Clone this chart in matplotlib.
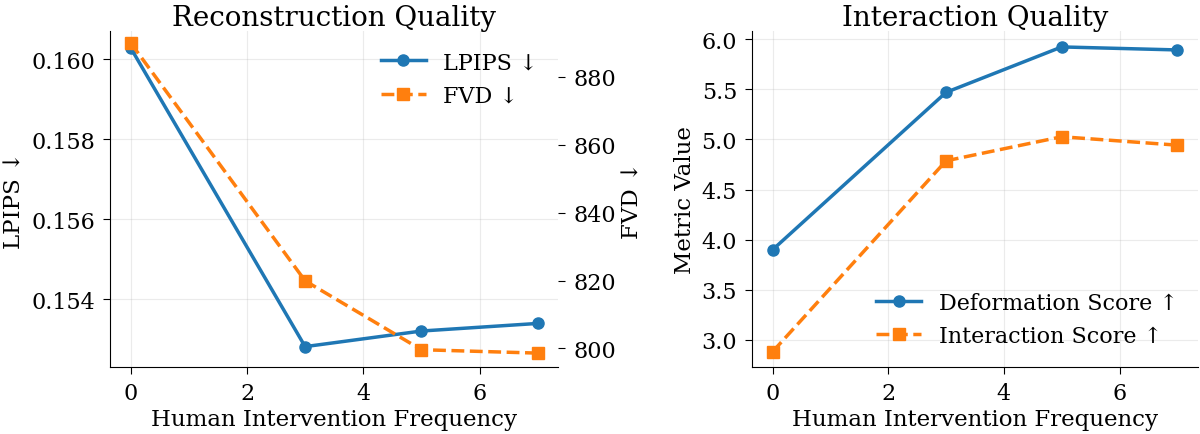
import matplotlib
matplotlib.use("Agg")
import matplotlib.pyplot as plt

freq = [0, 3, 5, 7]
lpips = [0.16028, 0.15281, 0.1532, 0.15339]
fvd = [890.0, 819.9, 799.6, 798.6]
deform = [3.90, 5.47, 5.923, 5.893]
interact = [2.883, 4.787, 5.027, 4.943]

blue = "#1f77b4"
orange = "#ff7f0e"

plt.rcParams['font.family'] = ['DejaVu Serif']
plt.rcParams['font.size'] = 16

fig = plt.figure(figsize=(12, 4.35), dpi=100)
ax1 = fig.add_axes([0.092, 0.154, 0.373, 0.772])
ax3 = fig.add_axes([0.627, 0.154, 0.371, 0.772])

# left panel: LPIPS + FVD on twin axis
l1, = ax1.plot(freq, lpips, '-o', color=blue, lw=2.5, ms=8, label='LPIPS ↓')
ax1.set_ylabel('LPIPS ↓', fontsize=16.5)
ax1.set_xlabel('Human Intervention Frequency', fontsize=16.5, labelpad=3)
ax1.set_title('Reconstruction Quality', fontsize=20, pad=4)
ax1.set_yticks([0.154, 0.156, 0.158, 0.160])
ax1.set_ylim(0.1523, 0.1607)
ax1.set_xlim(-0.35, 7.35)
ax1.set_xticks([0, 2, 4, 6])
ax1.grid(True, alpha=0.25)
ax1.spines['top'].set_visible(False)
ax1.spines['right'].set_visible(False)
ax1.tick_params(labelsize=16, length=5, pad=6)

ax2 = ax1.twinx()
l2, = ax2.plot(freq, fvd, '--s', color=orange, lw=2.5, ms=8, label='FVD ↓')
ax2.set_ylabel('FVD ↓', fontsize=16.5)
ax2.set_ylim(794.5, 893.5)
ax2.set_yticks([800, 820, 840, 860, 880])
for s in ['top', 'right', 'left', 'bottom']:
    ax2.spines[s].set_visible(False)
ax2.tick_params(labelsize=16, length=5, pad=6)
ax1.legend(handles=[l1, l2], loc='upper right', frameon=False, fontsize=16)

# right panel
ax3.plot(freq, deform, '-o', color=blue, lw=2.5, ms=8, label='Deformation Score ↑')
ax3.plot(freq, interact, '--s', color=orange, lw=2.5, ms=8, label='Interaction Score ↑')
ax3.set_ylabel('Metric Value', fontsize=16.5)
ax3.set_xlabel('Human Intervention Frequency', fontsize=16.5, labelpad=3)
ax3.set_title('Interaction Quality', fontsize=20, pad=4)
ax3.set_ylim(2.73, 6.08)
ax3.set_xlim(-0.35, 7.35)
ax3.set_xticks([0, 2, 4, 6])
ax3.grid(True, alpha=0.25)
ax3.spines['top'].set_visible(False)
ax3.spines['right'].set_visible(False)
ax3.tick_params(labelsize=16, length=5, pad=6)
ax3.legend(loc='lower right', frameon=False, fontsize=16)

fig.savefig('out.png', dpi=100)
